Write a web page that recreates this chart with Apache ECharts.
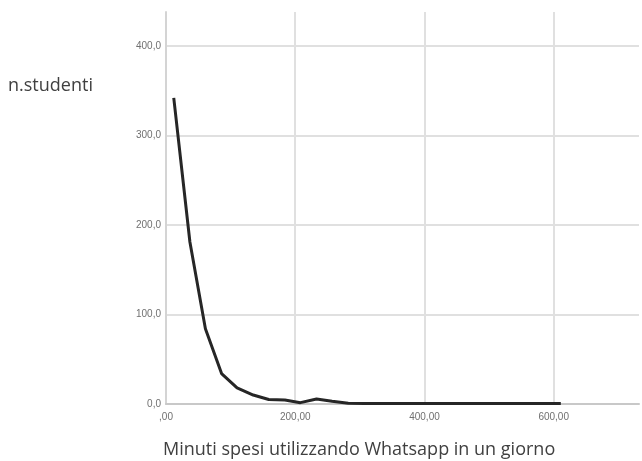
<!DOCTYPE html>
<html>
<head>
<meta charset="utf-8">
<script src="https://cdn.jsdelivr.net/npm/echarts@6/dist/echarts.min.js"></script>
<style>
  html, body { margin: 0; padding: 0; background: #fff; }
  #chart { width: 642px; height: 461px; }
</style>
</head>
<body>
<div id="chart"></div>
<script>
// minutes spent on Whatsapp per day (bin centres) and number of students
const minuti = [12, 37, 61, 86, 110, 135, 159, 184, 208, 233, 257, 282, 306, 331, 355, 380, 404, 429, 453, 478, 502, 527, 551, 576, 611];
const studenti = [342, 181, 84, 34, 18, 10, 5, 4.5, 1.5, 5.5, 3, 0.8, 0.5, 0.5, 0.5, 0.5, 0.5, 0.5, 0.5, 0.5, 0.5, 0.5, 0.5, 0.5, 0.5];
const xTicks = [0, 200, 400, 600];
const yTicks = [0, 100, 200, 300, 400];

const chart = echarts.init(document.getElementById('chart'));
const gridColor = '#e0e0e0';
const labelColor = '#707070';

const option = {
    backgroundColor: '#fff',
    animation: false,
    grid: { left: 166, right: 0, top: 12, bottom: 57 },
    xAxis: {
        type: 'value',
        min: 0,
        max: 732,
        interval: 200,
        axisLine: { lineStyle: { color: '#c8c8c8', width: 2 } },
        axisTick: { show: false },
        axisLabel: {
            color: labelColor,
            fontSize: 10,
            margin: 8,
            formatter: v => xTicks.includes(v) ? (v === 0 ? ',00' : v.toFixed(2).replace('.', ',')) : ''
        },
        splitLine: { show: true, showMaxLine: false, lineStyle: { color: gridColor, width: 2 } }
    },
    yAxis: {
        type: 'value',
        min: 0,
        max: 438,
        interval: 100,
        axisLine: { show: true, lineStyle: { color: '#d4d4d4', width: 2 } },
        axisTick: { show: false },
        axisLabel: {
            color: labelColor,
            fontSize: 10,
            margin: 5,
            formatter: v => yTicks.includes(v) ? v.toFixed(1).replace('.', ',') : ''
        },
        splitLine: { show: true, showMinLine: false, showMaxLine: false, lineStyle: { color: gridColor, width: 2 } }
    },
    graphic: [
        {
            type: 'text', left: 8, top: 77,
            style: { text: 'n.studenti', fill: '#404040', font: '18px "Open Sans"' }
        },
        {
            type: 'text', left: 163, top: 441,
            style: { text: 'Minuti spesi utilizzando Whatsapp in un giorno', fill: '#404040', font: '18px "Open Sans"' }
        }
    ],
    series: [
        {
            type: 'line',
            data: minuti.map((m, i) => [m, studenti[i]]),
            showSymbol: false,
            lineStyle: { color: '#262626', width: 3 },
            itemStyle: { color: '#262626' }
        }
    ]
};

chart.setOption(option);
</script>
</body>
</html>
